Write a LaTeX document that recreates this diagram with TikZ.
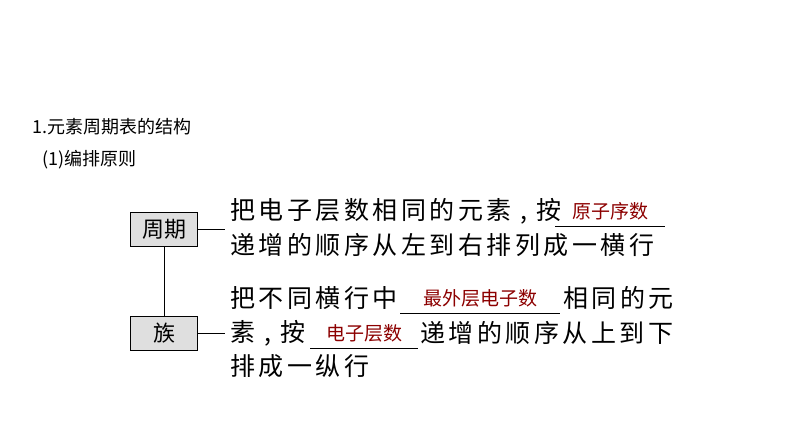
\documentclass[tikz,border=0pt]{standalone}
\usepackage{fontspec}
\newfontfamily\cjk{Noto Sans CJK SC}
\newfontfamily\cjksp[LetterSpace=14]{Noto Sans CJK SC}
\begin{document}
\begin{tikzpicture}[x=1pt,y=-1pt,
  box/.style={draw,fill=gray!25,minimum width=67pt,minimum height=34pt,inner sep=0pt,font=\cjk\fontsize{22}{22}\selectfont},
  txt/.style={anchor=west,inner sep=0pt,font=\cjksp\fontsize{25}{25}\selectfont},
  ans/.style={inner sep=0pt,text=red!55!black,font=\cjk\fontsize{19}{19}\selectfont},
  hd/.style={anchor=west,inner sep=0pt,font=\cjk\fontsize{18}{18}\selectfont}]
\useasboundingbox (0,0) rectangle (794,447);
% titles
\node[hd] (title) at (32,127) {1.元素周期表的结构};
\node[hd] (sub) at (42,160) {(1)编排原则};

% boxes
\node[box] (zq) at (164,229) {周期};
\node[box] (zu) at (164,333) {族};
\draw (zq) -- (zu);
\coordinate (a) at (225,229);
\coordinate (b) at (225,333);
\draw (zq.east) -- (a);
\draw (zu.east) -- (b);

% text
\node[txt] (l1) at (230,211) {把电子层数相同的元素 , 按};
\node[txt] (l2) at (230,245) {递增的顺序从左到右排列成一横行};
\node[txt] (l3) at (230,298) {把不同横行中};
\node[txt] (l3b) at (563,298) {相同的元};
\node[txt] (l4) at (230,333) {素 , 按};
\node[txt] (l4b) at (420,333) {递增的顺序从上到下};
\node[txt] (l5) at (230,366) {排成一纵行};

% blanks
\draw (555,226) -- (665,226);
\node[ans] (w1) at (610,211) {原子序数};
\draw (400,313) -- (560,313);
\node[ans] (w2) at (480,298) {最外层电子数};
\draw (310,348) -- (418,348);
\node[ans] (w3) at (364,333) {电子层数};
\end{tikzpicture}
\end{document}
